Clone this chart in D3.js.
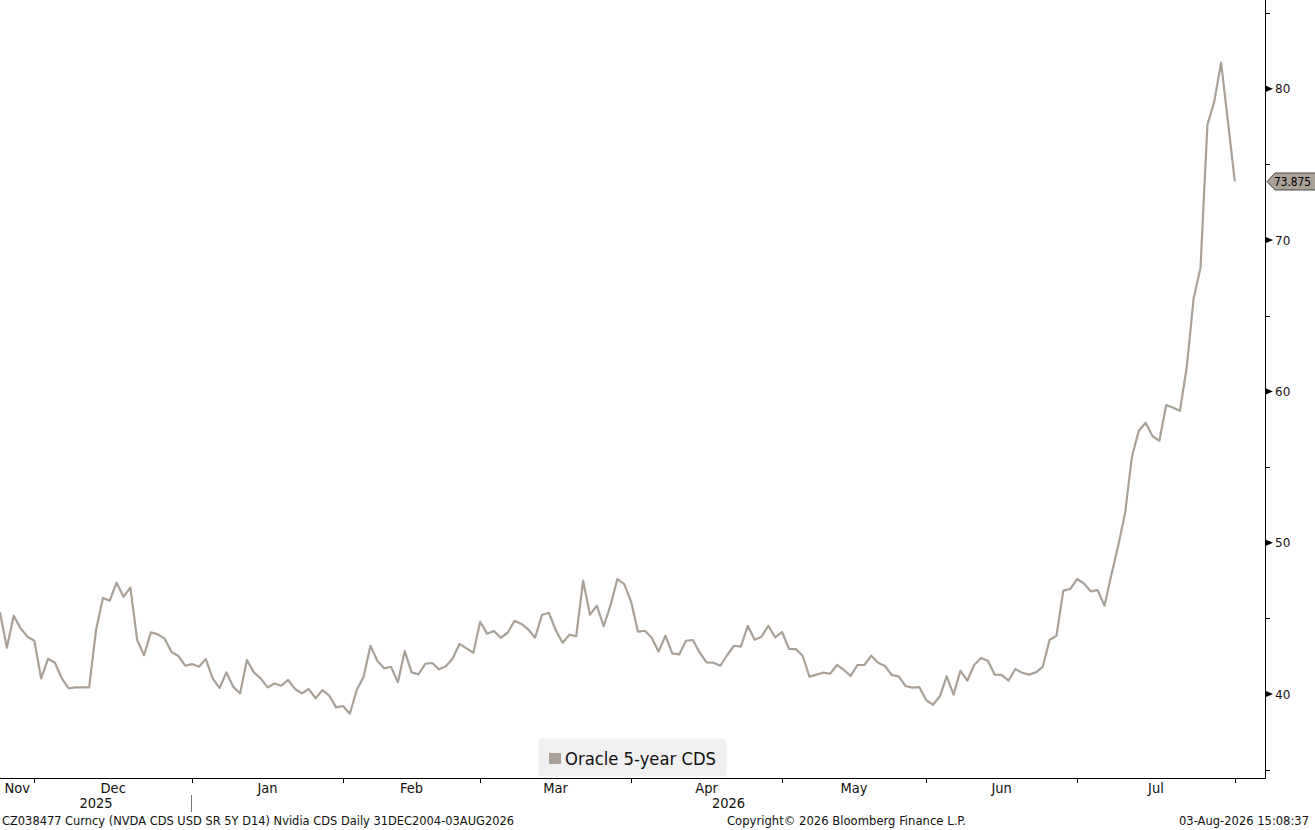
<!DOCTYPE html>
<html>
<head>
<meta charset="utf-8">
<script src="https://cdn.jsdelivr.net/npm/d3@7"></script>
<style>
  html, body { margin: 0; padding: 0; background: #fff; }
  svg { display: block; }
</style>
</head>
<body>
<script>
// Oracle 5-year CDS, business days 24 Nov 2025 .. 03 Aug 2026
const oracleCds = [
  45.40, 43.06, 45.18, 44.34, 43.79, 43.52, 41.04, 42.33, 42.07, 41.04,
  40.38, 40.44, 40.44, 40.44, 44.23, 46.35, 46.17, 47.36, 46.43, 47.03,
  43.57, 42.56, 44.08, 43.94, 43.66, 42.78, 42.51, 41.87, 41.98, 41.80,
  42.31, 41.04, 40.40, 41.43, 40.48, 40.04, 42.25, 41.43, 41.04, 40.44,
  40.70, 40.55, 40.93, 40.33, 40.04, 40.33, 39.72, 40.26, 39.89, 39.12,
  39.21, 38.70, 40.26, 41.14, 43.19, 42.20, 41.70, 41.80, 40.77, 42.84,
  41.43, 41.30, 42.00, 42.05, 41.63, 41.83, 42.36, 43.32, 43.02, 42.73,
  44.78, 43.99, 44.16, 43.72, 44.05, 44.84, 44.63, 44.27, 43.72, 45.22,
  45.37, 44.23, 43.39, 43.92, 43.83, 47.49, 45.24, 45.84, 44.49, 45.88,
  47.60, 47.27, 46.10, 44.12, 44.18, 43.72, 42.80, 43.85, 42.69, 42.62,
  43.52, 43.57, 42.73, 42.09, 42.07, 41.87, 42.58, 43.19, 43.13, 44.51,
  43.59, 43.79, 44.51, 43.74, 44.10, 42.99, 42.97, 42.53, 41.14, 41.28,
  41.41, 41.34, 41.92, 41.59, 41.20, 41.92, 41.92, 42.53, 42.07, 41.85,
  41.26, 41.17, 40.53, 40.42, 40.46, 39.60, 39.29, 39.85, 41.17, 39.96,
  41.54, 40.88, 41.92, 42.38, 42.20, 41.28, 41.26, 40.88, 41.65, 41.41,
  41.28, 41.43, 41.80, 43.57, 43.85, 46.83, 46.94, 47.60, 47.31, 46.79,
  46.87, 45.84, 47.86, 49.80, 51.94, 55.68, 57.40, 57.93, 57.05, 56.74,
  59.10, 58.92, 58.72, 61.63, 66.15, 68.18, 77.60, 79.15, 81.73, 77.83,
  73.875
];
const startDate = new Date(2025, 10, 24);
const endDate = new Date(2026, 7, 3);
const monthLabels = ["Nov", "Dec", "Jan", "Feb", "Mar", "Apr", "May", "Jun", "Jul"];
const yearLabels = ["2025", "2026"];
const majorTicks = [40, 50, 60, 70, 80];
const minorTicks = [35, 45, 55, 65, 75, 85];
const lastLabel = "73.875";
const legendLabel = "Oracle 5-year CDS";
const footerLeft = "CZ038477 Curncy (NVDA CDS USD SR 5Y D14) Nvidia CDS Daily 31DEC2004-03AUG2026";
const footerMid = "Copyright\u00A9 2026 Bloomberg Finance L.P.";
const footerRight = "03-Aug-2026 15:08:37";

const width = 1315, height = 830;
const plotRight = 1265, plotBottom = 778;
const lineColor = "#a9a198";
const narrow = "'Liberation Sans Narrow', 'DejaVu Sans Condensed', 'Roboto Condensed', sans-serif";

// trading days on the x axis
const dates = d3.timeDay.range(startDate, d3.timeDay.offset(endDate, 1))
  .filter(d => d.getDay() !== 0 && d.getDay() !== 6);
const data = dates.map((d, i) => ({ i, date: d, value: oracleCds[i] }));

const x = d3.scaleLinear().domain([0, 184.4]).range([0, plotRight]);
const y = d3.scaleLinear().domain([34.45, 85.87]).range([plotBottom, 0]);

const svg = d3.create("svg")
  .attr("width", width)
  .attr("height", height)
  .attr("viewBox", `0 0 ${width} ${height}`)
  .style("background", "#fff");

// legend box
const legend = svg.append("g");
legend.append("rect")
  .attr("x", 538.5).attr("y", 738.5)
  .attr("width", 188).attr("height", 38)
  .attr("rx", 3)
  .attr("fill", "#f0f0f0");
legend.append("rect")
  .attr("x", 549).attr("y", 753)
  .attr("width", 12).attr("height", 11)
  .attr("fill", lineColor);
legend.append("text")
  .attr("x", 565).attr("y", 765)
  .attr("textLength", 151)
  .attr("lengthAdjust", "spacingAndGlyphs")
  .style("font", `18.5px ${narrow}`)
  .attr("fill", "#111")
  .text(legendLabel);

// series line
svg.append("path")
  .datum(data)
  .attr("fill", "none")
  .attr("stroke", lineColor)
  .attr("stroke-width", 2.2)
  .attr("stroke-linejoin", "round")
  .attr("d", d3.line().x(d => x(d.i)).y(d => y(d.value)));

// axes lines
svg.append("line")
  .attr("x1", 0).attr("x2", plotRight + 0.5)
  .attr("y1", plotBottom + 0.5).attr("y2", plotBottom + 0.5)
  .attr("stroke", "#000");
svg.append("line")
  .attr("x1", plotRight + 0.5).attr("x2", plotRight + 0.5)
  .attr("y1", 0).attr("y2", plotBottom + 0.5)
  .attr("stroke", "#000");

// month boundaries (first trading day of each month)
const monthStarts = data.filter((d, k) => k > 0 && d.date.getMonth() !== data[k - 1].date.getMonth());
svg.append("g").selectAll("line")
  .data(monthStarts)
  .join("line")
  .attr("x1", d => Math.round(x(d.i)) + 0.5).attr("x2", d => Math.round(x(d.i)) + 0.5)
  .attr("y1", plotBottom).attr("y2", plotBottom + 5)
  .attr("stroke", "#000");

const edges = [0, ...monthStarts.map(d => x(d.i)), plotRight];
svg.append("g").selectAll("text")
  .data(monthLabels)
  .join("text")
  .attr("x", (m, k) => (edges[k] + edges[k + 1]) / 2)
  .attr("y", 793)
  .attr("text-anchor", "middle")
  .style("font", `14.5px ${narrow}`)
  .attr("fill", "#111")
  .text(m => m);

// year labels centred on the part of each year that is shown
const yearStart = monthStarts.find(d => d.date.getMonth() === 0);
const yearEdges = [0, x(yearStart.i), plotRight];
svg.append("g").selectAll("text")
  .data(yearLabels)
  .join("text")
  .attr("x", (t, k) => (yearEdges[k] + yearEdges[k + 1]) / 2)
  .attr("y", 808)
  .attr("text-anchor", "middle")
  .style("font", `14.5px ${narrow}`)
  .attr("fill", "#111")
  .text(t => t);
svg.append("line")
  .attr("x1", Math.round(x(yearStart.i)) - 0.5).attr("x2", Math.round(x(yearStart.i)) - 0.5)
  .attr("y1", 795).attr("y2", 812)
  .attr("stroke", "#777");

// right axis ticks
svg.append("g").selectAll("path")
  .data(majorTicks)
  .join("path")
  .attr("d", v => `M${plotRight + 1},${y(v) - 3}L${plotRight + 8},${y(v)}L${plotRight + 1},${y(v) + 3}Z`)
  .attr("fill", "#000");
svg.append("g").selectAll("line")
  .data(minorTicks)
  .join("line")
  .attr("x1", plotRight).attr("x2", plotRight + 5)
  .attr("y1", v => Math.round(y(v)) + 0.5).attr("y2", v => Math.round(y(v)) + 0.5)
  .attr("stroke", "#000");
svg.append("g").selectAll("text")
  .data(majorTicks)
  .join("text")
  .attr("x", plotRight + 10)
  .attr("y", v => y(v) + 4.5)
  .style("font", "12px 'DejaVu Sans', sans-serif")
  .attr("fill", "#111")
  .text(v => v);

// last value tag
const last = data[data.length - 1];
const ty = y(last.value);
svg.append("path")
  .attr("d", `M${plotRight + 2},${ty}L${plotRight + 10},${ty - 8.5}L${width + 2},${ty - 8.5}L${width + 2},${ty + 8.5}L${plotRight + 10},${ty + 8.5}Z`)
  .attr("fill", "#aaa197")
  .attr("stroke", "#4a4a4a")
  .attr("stroke-width", 1);
svg.append("text")
  .attr("x", plotRight + 9)
  .attr("y", ty + 4.5)
  .attr("textLength", 37)
  .attr("lengthAdjust", "spacingAndGlyphs")
  .style("font", "12px 'DejaVu Sans', sans-serif")
  .attr("fill", "#000")
  .text(lastLabel);

// footer
const footer = svg.append("g").style("font", `13px ${narrow}`).attr("fill", "#111");
footer.append("text").attr("x", 2).attr("y", 825)
  .attr("textLength", 512).attr("lengthAdjust", "spacingAndGlyphs").text(footerLeft);
footer.append("text").attr("x", 727).attr("y", 825)
  .attr("textLength", 239).attr("lengthAdjust", "spacingAndGlyphs").text(footerMid);
footer.append("text").attr("x", 1179).attr("y", 825)
  .attr("textLength", 130).attr("lengthAdjust", "spacingAndGlyphs").text(footerRight);

document.body.appendChild(svg.node());
</script>
</body>
</html>
